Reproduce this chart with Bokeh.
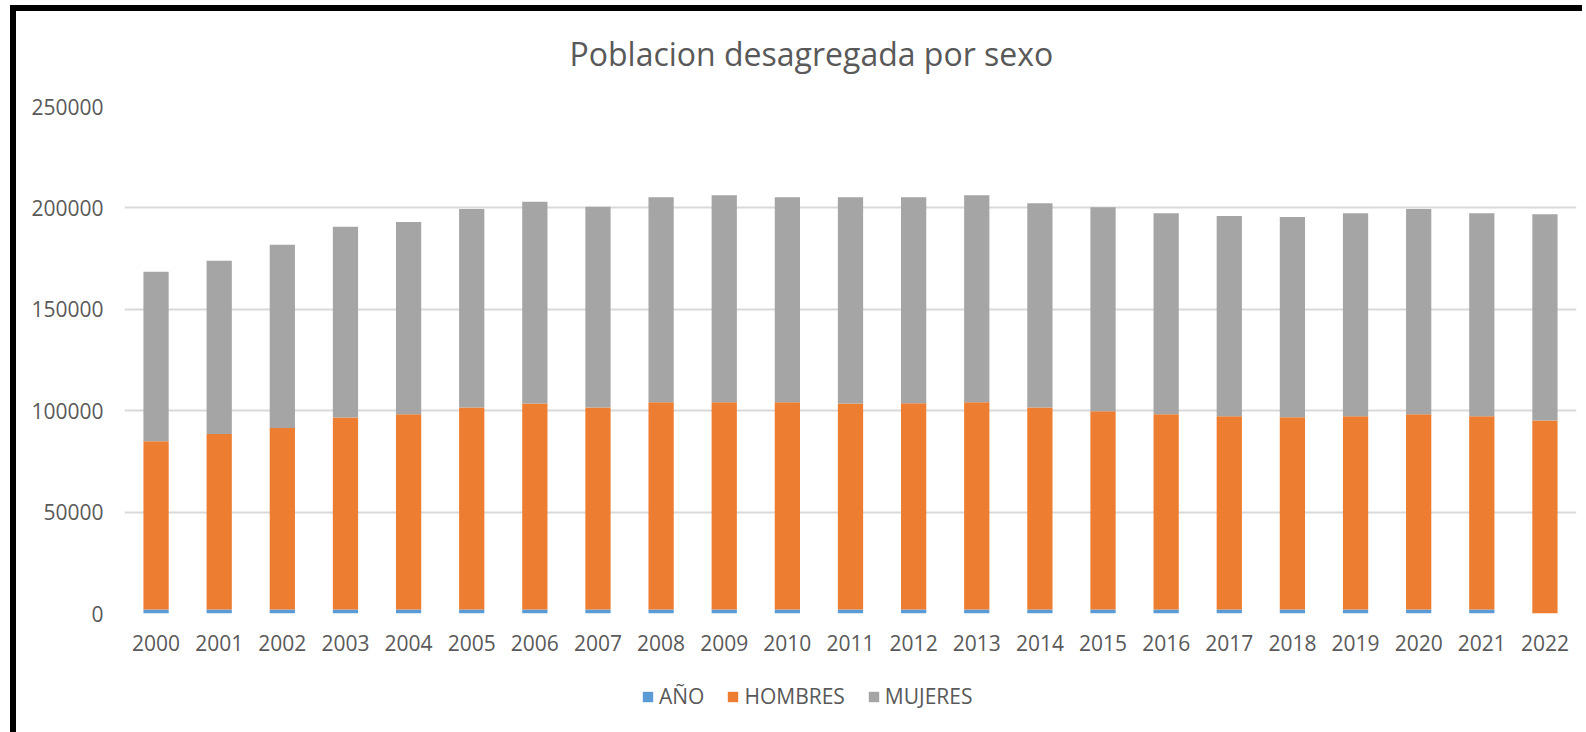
from bokeh.plotting import figure
from bokeh.models import ColumnDataSource, FactorRange, FixedTicker, NumeralTickFormatter, Legend, Label
from bokeh.layouts import column
from bokeh.embed import file_html
from bokeh.resources import INLINE

years = ["2000", "2001", "2002", "2003", "2004", "2005", "2006", "2007", "2008", "2009",
         "2010", "2011", "2012", "2013", "2014", "2015", "2016", "2017", "2018", "2019",
         "2020", "2021", "2022"]
anio = [2000, 2001, 2002, 2003, 2004, 2005, 2006, 2007, 2008, 2009,
        2010, 2011, 2012, 2013, 2014, 2015, 2016, 2017, 2018, 2019,
        2020, 2021, 0]
hombres = [82900, 86500, 89500, 94700, 96200, 99600, 101600, 99600, 102100, 102100,
           102100, 101600, 101600, 102100, 99600, 97700, 96200, 95200, 94700, 95200,
           96200, 95200, 95200]
mujeres = [83650, 85500, 90300, 93970, 94900, 97900, 99400, 98900, 101150, 102100,
           101150, 101650, 101650, 102100, 100700, 100600, 99200, 98800, 98800, 100200,
           101200, 100200, 101700]
series = ["AÑO", "HOMBRES", "MUJERES"]
colors = ["#5B9BD5", "#ED7D31", "#A5A5A5"]
y_ticks = [0, 50000, 100000, 150000, 200000, 250000]
title_text = "Poblacion desagregada por sexo"

source = ColumnDataSource(data={"year": years, "AÑO": anio, "HOMBRES": hombres, "MUJERES": mujeres})

FONT = "Open Sans"
TXT = "#595959"

# title strip
tp = figure(width=1566, height=80, x_range=(0, 1), y_range=(0, 1),
            output_backend="svg", toolbar_location=None,
            min_border_left=0, min_border_right=0, min_border_top=0, min_border_bottom=0,
            x_axis_location=None, y_axis_location=None)
tp.grid.visible = False
tp.outline_line_color = None
tp.add_layout(Label(x=445, y=38, x_units="screen", y_units="screen", text=title_text,
                    text_font=FONT, text_font_size="32px", text_color=TXT,
                    text_align="left", text_baseline="middle"))

p = figure(x_range=FactorRange(*years), y_range=(0, 250000),
           width=1566, height=572, output_backend="svg", toolbar_location=None,
           min_border_left=108, min_border_right=6, min_border_top=15, min_border_bottom=50)

renderers = p.vbar_stack(series, x="year", width=0.4, color=colors, source=source, line_width=0)

p.x_range.range_padding = 0
p.xgrid.grid_line_color = None
p.ygrid.grid_line_color = "#D9D9D9"
p.ygrid.grid_line_width = 2
p.yaxis.ticker = FixedTicker(ticks=y_ticks)
p.yaxis.formatter = NumeralTickFormatter(format="0")
for ax in (p.xaxis[0], p.yaxis[0]):
    ax.axis_line_color = None
    ax.major_tick_line_color = None
    ax.minor_tick_line_color = None
    ax.major_label_text_font = FONT
    ax.major_label_text_font_size = "21px"
    ax.major_label_text_color = TXT
p.yaxis.major_label_standoff = 15
p.xaxis.major_label_standoff = 15
p.outline_line_color = None

# legend strip below the chart (swatch renderers sit outside the visible range)
lg = figure(width=1566, height=70, x_range=(0, 1), y_range=(0, 1),
            output_backend="svg", toolbar_location=None,
            min_border_left=0, min_border_right=0, min_border_top=0, min_border_bottom=0,
            x_axis_location=None, y_axis_location=None)
lg.grid.visible = False
lg.outline_line_color = None
swatch_src = ColumnDataSource(data={"x": [-10], "top": [-10]})
dummies = [lg.vbar(x="x", top="top", width=0.4, color=c, line_width=0, source=swatch_src) for c in colors]
legend = Legend(items=[(s, [r]) for s, r in zip(series, dummies)], orientation="horizontal",
                location=(517, 23), label_text_font=FONT, label_text_font_size="21px",
                label_text_color=TXT, glyph_width=13, glyph_height=13, label_standoff=5,
                spacing=22, border_line_color=None, background_fill_alpha=0, padding=4, margin=0)
lg.add_layout(legend, "center")

layout = column(tp, p, lg, spacing=0)
layout.styles = {"border-left": "6px solid black", "border-top": "6px solid black",
                 "margin-left": "10px", "margin-top": "5px"}

open("out.html", "w").write(file_html(layout, INLINE))
